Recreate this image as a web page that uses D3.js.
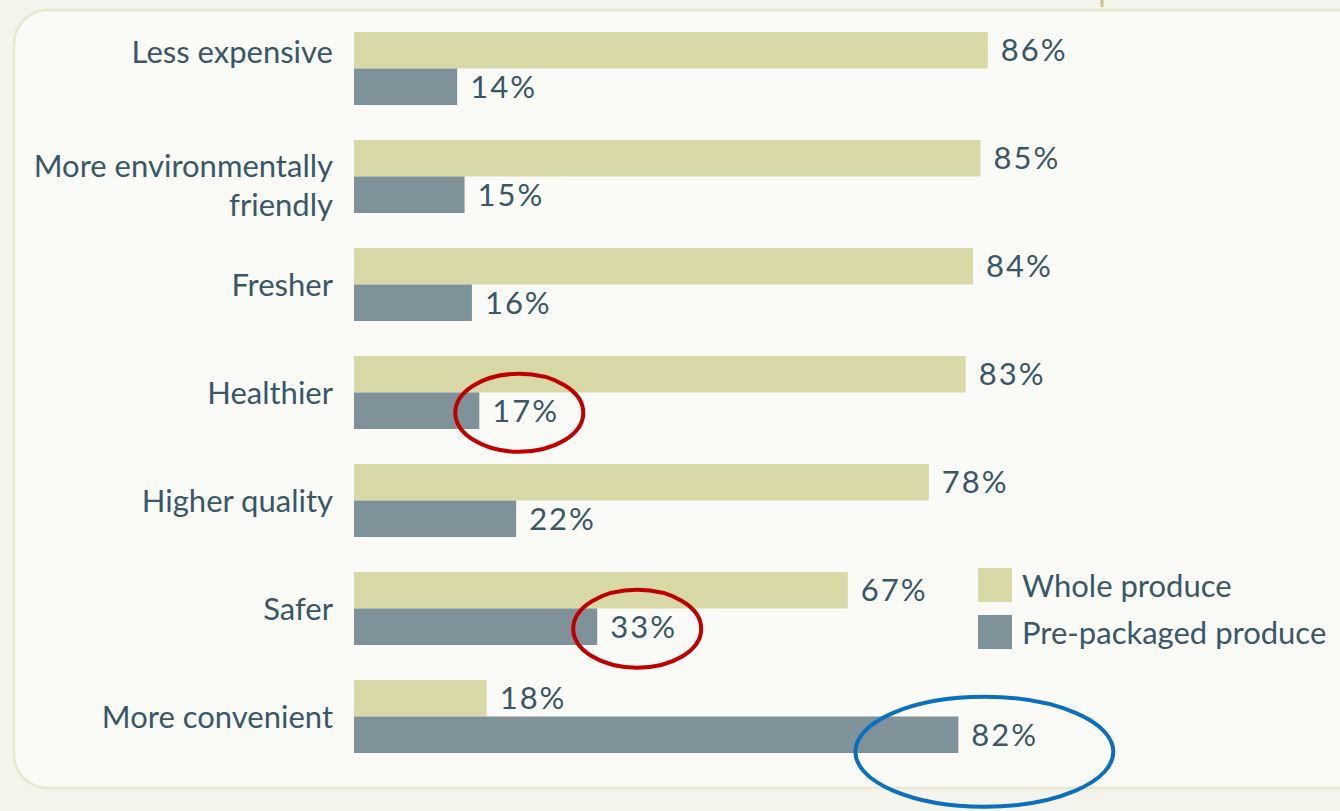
<!DOCTYPE html>
<html><head><meta charset="utf-8">
<script src="https://cdn.jsdelivr.net/npm/d3@7"></script>
<style>
html,body{margin:0;padding:0;background:#f4f4ec;}
svg{display:block;}
text{font-family:Lato,"Open Sans",sans-serif;fill:#385869;}
</style></head>
<body>
<svg id="chart" width="1340" height="811"></svg>
<script>
const categories = ["Less expensive","More environmentally friendly","Fresher","Healthier","Higher quality","Safer","More convenient"];
const categoryLines = [["Less expensive"],["More environmentally","friendly"],["Fresher"],["Healthier"],["Higher quality"],["Safer"],["More convenient"]];
const wholeValues = [86,85,84,83,78,67,18];
const prepackValues = [14,15,16,17,22,33,82];
const seriesNames = ["Whole produce","Pre-packaged produce"];
const seriesColors = ["#d9d8a7","#7f9199"];
const annotations = [
  {category:"Healthier", series:1, color:"#c00000"},
  {category:"Safer", series:1, color:"#c00000"},
  {category:"More convenient", series:1, color:"#0a6fbf"}
];

const svg = d3.select("#chart");
svg.append("rect").attr("x",14).attr("y",10).attr("width",1360).attr("height",778)
  .attr("rx",34).attr("fill","#fafaf6").attr("stroke","#e7e8cf").attr("stroke-width",2.5);
svg.append("line").attr("x1",1102).attr("x2",1102).attr("y1",0).attr("y2",7)
  .attr("stroke","#c9c47a").attr("stroke-width",3);

const x = d3.scaleLinear().domain([0,100]).range([354,1091]);
const y = d3.scaleBand().domain(categories).range([32,788]).paddingInner(0).paddingOuter(0);
const barH = 36.5;
const fs = 31;

const rows = svg.append("g").selectAll("g.row").data(categories).join("g").attr("class","row")
  .attr("transform",d=>`translate(0,${y(d)})`);

const vals = [wholeValues, prepackValues];
vals.forEach((arr,s)=>{
  rows.append("rect")
    .attr("x",x(0)).attr("y",s*barH)
    .attr("width",(d,i)=>x(arr[i])-x(0)).attr("height",barH)
    .attr("fill",seriesColors[s]);
  rows.append("text")
    .attr("x",(d,i)=>x(arr[i])+13).attr("y",s*barH+barH/2)
    .attr("dy","0.35em").attr("font-size",fs).attr("letter-spacing",2)
    .text((d,i)=>arr[i]+"%");
});

rows.each(function(d,i){
  const lines = categoryLines[i];
  const cy = i===0 ? barH/2 + 2 : (lines.length>1 ? barH + 9 : barH + 1);
  const lh = 39;
  const t = d3.select(this).append("text").attr("text-anchor","end").attr("font-size",fs);
  lines.forEach((l,k)=>{
    t.append("tspan").attr("x",333).attr("y",cy + (k-(lines.length-1)/2)*lh).attr("dy","0.35em").text(l);
  });
});

const lg = svg.append("g");
seriesNames.forEach((n,s)=>{
  lg.append("rect").attr("x",978).attr("y",568+s*47).attr("width",34).attr("height",34).attr("fill",seriesColors[s]);
  lg.append("text").attr("x",1022).attr("y",586+s*47).attr("dy","0.35em").attr("font-size",fs).text(n);
});

annotations.forEach(a=>{
  const i = categories.indexOf(a.category);
  const v = vals[a.series][i];
  const cy = y(a.category) + a.series*barH + barH/2;
  const big = v>50;
  svg.append("ellipse")
    .attr("cx", x(v) + (big?26:40)).attr("cy", cy + (big?17:2))
    .attr("rx", big?129:64).attr("ry", big?55:39)
    .attr("fill","none").attr("stroke",a.color).attr("stroke-width",4);
});
</script>
</body></html>
